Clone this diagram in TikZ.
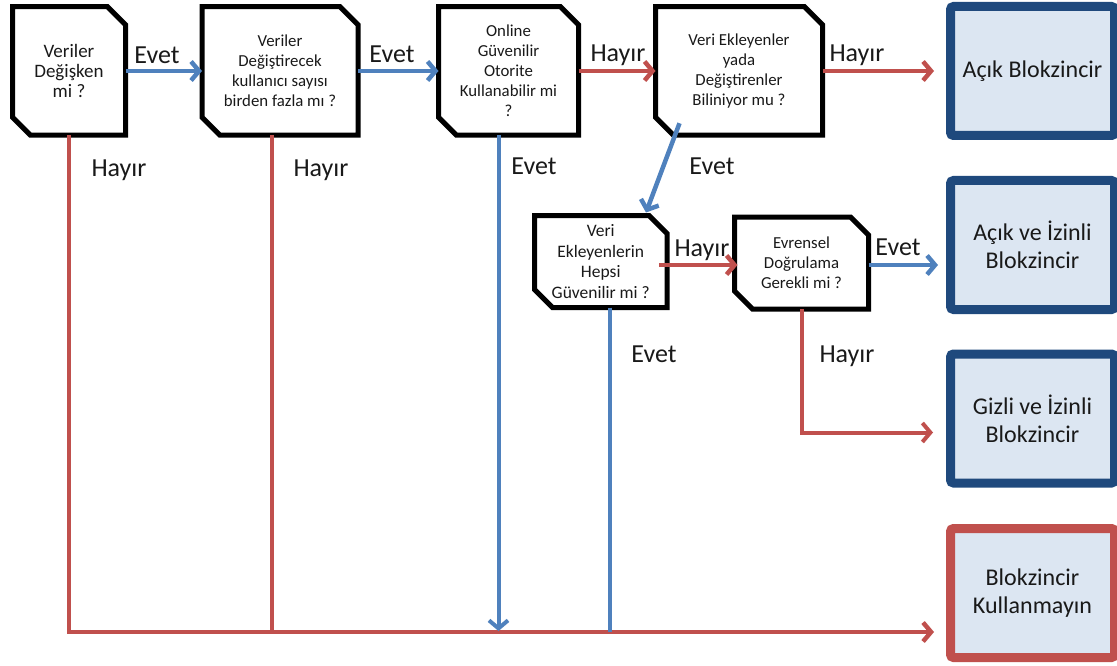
\documentclass[tikz,border=0pt]{standalone}
\usepackage{fontspec}
\setmainfont{Carlito}
\usetikzlibrary{arrows.meta,calc}
\definecolor{flowblue}{RGB}{79,129,189}
\definecolor{flowred}{RGB}{192,80,77}
\definecolor{boxedge}{RGB}{31,73,125}
\definecolor{boxfill}{RGB}{220,230,242}
\definecolor{ink}{RGB}{25,25,25}

% outline of a question box: top-right and bottom-left corners cut off
\newcommand\chamferoutline[1]{%
  \draw[qedge] (#1.north west) -- ($(#1.north east)+(-18,0)$) -- ($(#1.north east)+(0,18)$)
    -- (#1.south east) -- ($(#1.south west)+(18,0)$) -- ($(#1.south west)+(0,-18)$) -- cycle;}

\begin{document}
\begin{tikzpicture}[x=1pt,y=-1pt,
  qbox/.style 2 args={rectangle, inner sep=0pt, outer sep=0pt, minimum width=#1, minimum height=#2,
    align=center, text=ink, font=\fontsize{16.8}{20}\selectfont},
  qedge/.style={draw=black, line width=5pt, line join=miter},
  result/.style={rectangle, rounded corners=3pt, line width=9pt, draw=boxedge, fill=boxfill,
    minimum width=164pt, minimum height=129pt, inner sep=0pt, align=center, text=ink,
    font=\fontsize{24}{28}\selectfont},
  lab/.style={anchor=base, inner sep=0pt, text=ink, font=\fontsize{26}{30}\selectfont},
  tip/.style={-{Straight Barb[length=8pt,width=19pt]}},
  yes/.style={draw=flowblue, line width=4.5pt},
  no/.style={draw=flowred, line width=4.5pt},
  drop/.style={line width=4pt}]

\useasboundingbox (0,0) rectangle (1117,666);

% question boxes
\node[qbox={113pt}{128.5pt}, font=\fontsize{19}{20}\selectfont] (q1) at (69,71) {Veriler\\Değişken\\mi ?};
\node[qbox={156pt}{128.5pt}] (q2) at (280,71) {Veriler\\Değiştirecek\\kullanıcı sayısı\\birden fazla mı ?};
\node[qbox={140pt}{128.5pt}] (q3) at (508.5,71) {Online\\Güvenilir\\Otorite\\Kullanabilir mi\\?};
\node[qbox={167pt}{128.5pt}] (q4) at (739,71) {Veri Ekleyenler\\yada\\Değiştirenler\\Biliniyor mu ?};
\node[qbox={132.5pt}{92pt}, font=\fontsize{17.5}{20.5}\selectfont] (q5) at (600.75,261.5) {Veri\\Ekleyenlerin\\Hepsi\\Güvenilir mi ?};
\node[qbox={134pt}{92pt}] (q6) at (801.5,263) {Evrensel\\Doğrulama\\Gerekli mi ?};
\foreach \q in {q1,q2,q3,q4,q5,q6} {\chamferoutline{\q}}

% outcome boxes
\node[result] (r1) at (1032.5,71) {Açık Blokzincir};
\node[result] (r2) at (1032.5,245) {Açık ve İzinli\\Blokzincir};
\node[result] (r3) at (1032.5,418.5) {Gizli ve İzinli\\Blokzincir};
\node[result, draw=flowred] (r4) at (1032.5,593) {Blokzincir\\Kullanmayın};

% shared bottom line leading to "Blokzincir Kullanmayın"
\coordinate (floor) at ($(r4.west)+(0,39)$);
\draw[no, drop, tip, line width=4.5pt, shorten >=12pt] (q1.south) |- (floor);
\draw[no, drop] ($(q2.south)+(-8,0)$) coordinate (d2) -- (d2 |- floor);

% top row
\draw[yes, tip] (q1.east) -- (q2.west);
\draw[yes, tip] (q2.east) -- (q3.west);
\draw[no, tip] (q3.east) -- (q4.west);
\draw[no, tip, shorten >=12pt] (q4.east) -- (r1.west);

% second row
\draw[yes, tip] ($(q4.south west)+(24,-12)$) -- ($(q5.north east)+(-21,-3)$);
\draw[no, tip] ($(q5.east)+(-8,3.5)$) -- ($(q6.west)+(3,2)$);
\draw[yes, tip, shorten >=8pt] ($(q6.east)+(0,2)$) coordinate (s6) -- (s6 -| r2.west);
\draw[no, drop, tip, shorten >=13pt] (q6.south) |- ($(r3.west)+(0,14)$);

% blue drops onto the bottom line
\draw[yes, drop, tip, shorten >=1pt] ($(q3.south)+(-10,0)$) coordinate (d3) -- (d3 |- floor);
\draw[yes, drop] ($(q5.south)+(9,0)$) coordinate (d5) -- (d5 |- floor);

% connector labels
\node[lab] (l1) at (157,64) {Evet};
\node[lab] (l2) at (392,63) {Evet};
\node[lab] (l3) at (618,62) {Hayır};
\node[lab] (l4) at (857,62) {Hayır};
\node[lab] (l5) at (119,177) {Hayır};
\node[lab] (l6) at (321,177) {Hayır};
\node[lab] (l7) at (534,175) {Evet};
\node[lab] (l8) at (712,175) {Evet};
\node[lab] (l9) at (702,256) {Hayır};
\node[lab] (l10) at (898,255) {Evet};
\node[lab] (l11) at (847,362) {Hayır};
\node[lab] (l12) at (654,362) {Evet};
\end{tikzpicture}
\end{document}
